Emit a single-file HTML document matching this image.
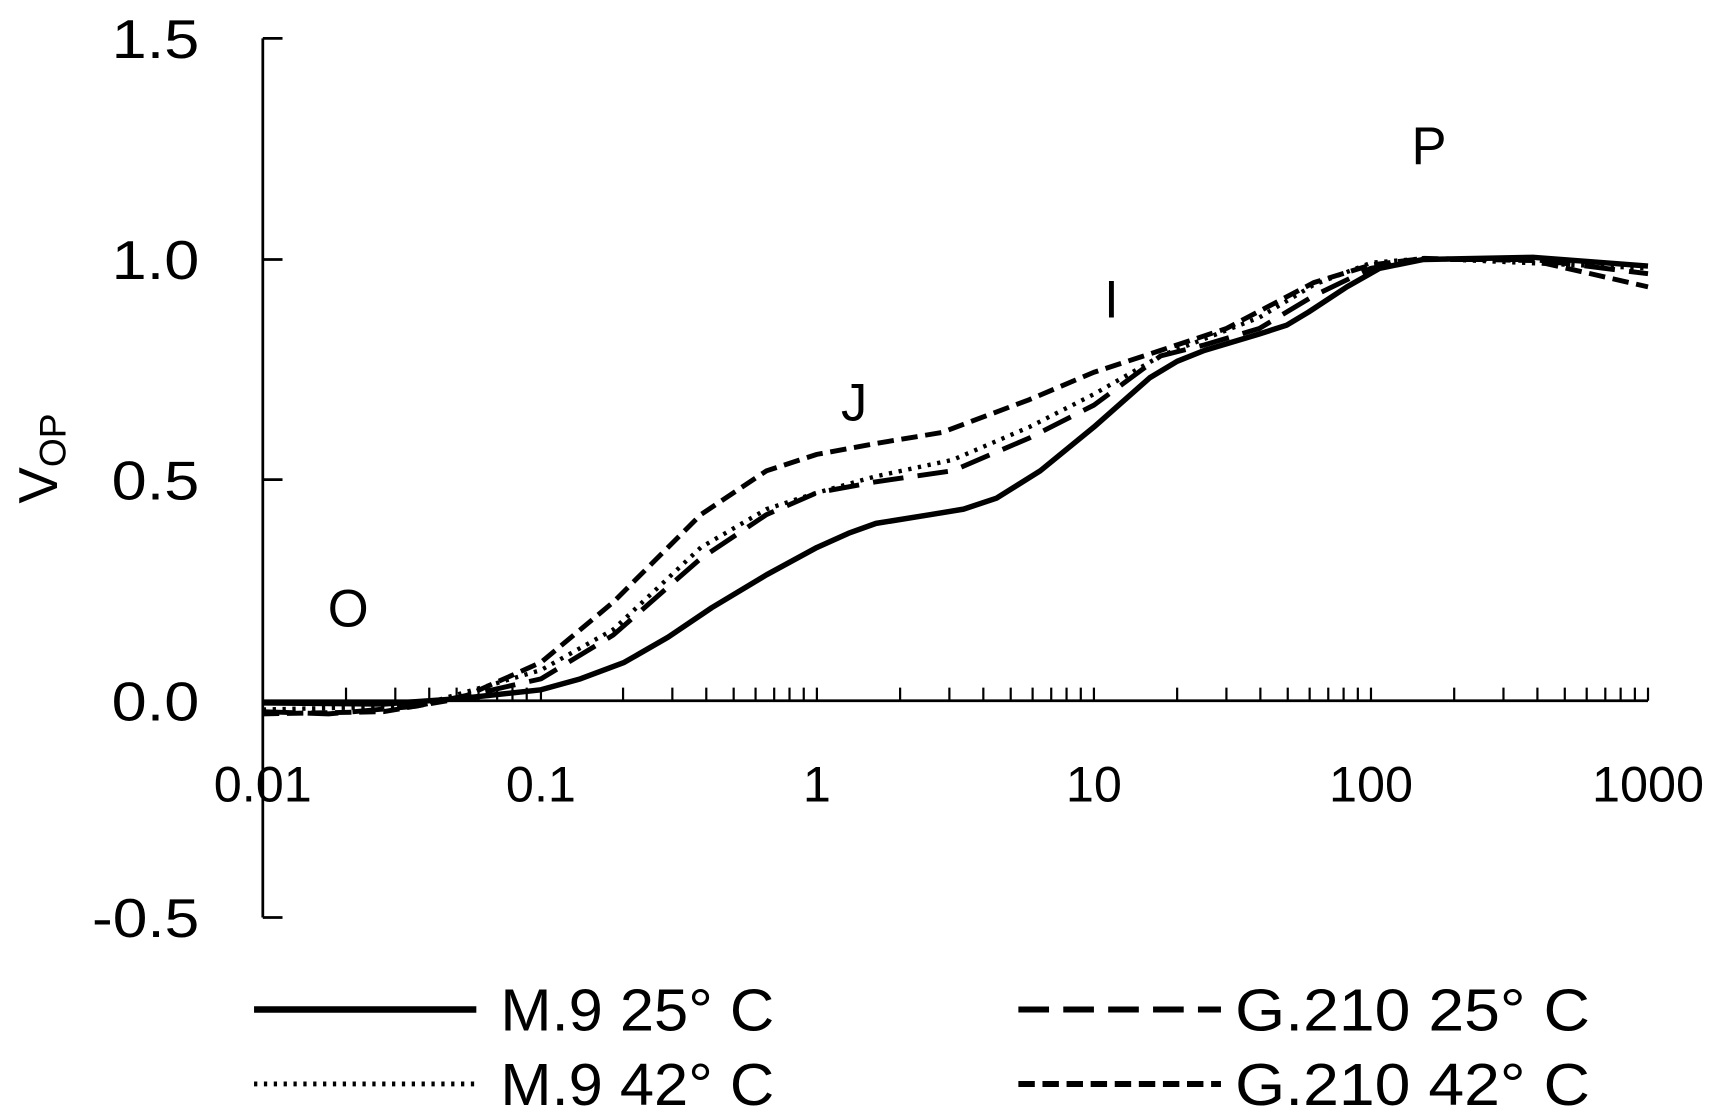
<!DOCTYPE html>
<html><head><style>html,body{margin:0;padding:0;background:#fff}svg{display:block}</style></head>
<body>
<svg width="1717" height="1119" viewBox="0 0 1568 1022" preserveAspectRatio="none" xmlns="http://www.w3.org/2000/svg" font-family="Liberation Sans, sans-serif" fill="#000">
<g stroke="#000" stroke-width="2.5" fill="none">
<line x1="240" y1="35" x2="240" y2="838"/>
<line x1="240" y1="35" x2="258" y2="35"/>
<line x1="240" y1="237" x2="258" y2="237"/>
<line x1="240" y1="438" x2="258" y2="438"/>
<line x1="240" y1="838" x2="258" y2="838"/>
<line x1="240" y1="640" x2="1505" y2="640"/>
<path stroke-width="2" d="M316,640v-12M361,640v-12M392,640v-12M417,640v-12M437,640v-12M454,640v-12M468,640v-12M481,640v-12M494,640v-12
M569,640v-12M614,640v-12M645,640v-12M670,640v-12M690,640v-12M707,640v-12M721,640v-12M734,640v-12M746,640v-12
M822,640v-12M867,640v-12M898,640v-12M923,640v-12M943,640v-12M960,640v-12M974,640v-12M987,640v-12M999,640v-12
M1075,640v-12M1120,640v-12M1151,640v-12M1176,640v-12M1196,640v-12M1213,640v-12M1227,640v-12M1240,640v-12M1252,640v-12
M1328,640v-12M1373,640v-12M1404,640v-12M1429,640v-12M1449,640v-12M1466,640v-12M1480,640v-12M1493,640v-12M1505,640v-12"/>
</g>
<g font-size="50" text-anchor="end">
<text x="182" y="53" textLength="80" lengthAdjust="spacingAndGlyphs">1.5</text>
<text x="182" y="255" textLength="80" lengthAdjust="spacingAndGlyphs">1.0</text>
<text x="182" y="456" textLength="80" lengthAdjust="spacingAndGlyphs">0.5</text>
<text x="182" y="658" textLength="80" lengthAdjust="spacingAndGlyphs">0.0</text>
<text x="182" y="856" textLength="98" lengthAdjust="spacingAndGlyphs">-0.5</text>
</g>
<g font-size="46" text-anchor="middle">
<text x="240" y="732">0.01</text><text x="494" y="732">0.1</text><text x="746" y="732">1</text><text x="999" y="732">10</text><text x="1252" y="732">100</text><text x="1505" y="732">1000</text>
</g>
<text x="0" y="0" font-size="50" transform="translate(52,460) rotate(-90)">V<tspan font-size="34" dy="8">OP</tspan></text>
<g font-size="48" text-anchor="middle">
<text x="318" y="572">O</text><text x="780" y="384">J</text><text x="1015" y="290">I</text><text x="1305" y="150">P</text>
</g>
<g fill="none" stroke="#000" stroke-linejoin="round" stroke-linecap="butt">
<polyline stroke-width="5" points="240,642 350,643 420,638 494,630 530,620 570,605 610,582 650,555 700,525 746,500 775,487 800,478 850,470 880,465 910,455 950,430 999,390 1050,345 1075,330 1100,320 1150,305 1175,297 1195,285 1230,262 1260,245 1300,237 1400,235 1505,243"/>
<polyline stroke-width="4.5" stroke-dasharray="28,13" points="240,650 300,652 380,645 450,630 494,620 560,580 640,510 700,470 746,450 800,440 870,430 940,400 999,370 1060,325 1100,315 1150,300 1200,270 1252,245 1300,237 1400,237 1505,250"/>
<polyline stroke-width="4" stroke-dasharray="3,6" points="240,648 380,645 450,625 494,612 560,575 640,500 700,465 746,450 800,435 870,420 940,390 999,360 1060,325 1150,290 1200,260 1252,240 1300,236 1505,245"/>
<polyline stroke-width="4.5" stroke-dasharray="15,7" points="240,652 350,650 420,638 494,605 560,550 640,470 700,430 746,415 800,405 860,395 940,365 999,340 1060,320 1120,300 1200,258 1252,242 1300,236 1400,238 1505,262"/>
<line x1="232" y1="922" x2="435" y2="922" stroke-width="6"/>
<line x1="930" y1="922" x2="1115" y2="922" stroke-width="5.5" stroke-dasharray="28,13"/>
<line x1="232" y1="990" x2="435" y2="990" stroke-width="4.5" stroke-dasharray="3,6"/>
<line x1="930" y1="990" x2="1115" y2="990" stroke-width="5.5" stroke-dasharray="15,7"/>
</g>
<g font-size="54">
<text x="457" y="941" textLength="250" lengthAdjust="spacingAndGlyphs">M.9 25° C</text><text x="1128" y="941" textLength="324" lengthAdjust="spacingAndGlyphs">G.210 25° C</text>
<text x="457" y="1009" textLength="250" lengthAdjust="spacingAndGlyphs">M.9 42° C</text><text x="1128" y="1009" textLength="324" lengthAdjust="spacingAndGlyphs">G.210 42° C</text>
</g>
</svg>
</body></html>
